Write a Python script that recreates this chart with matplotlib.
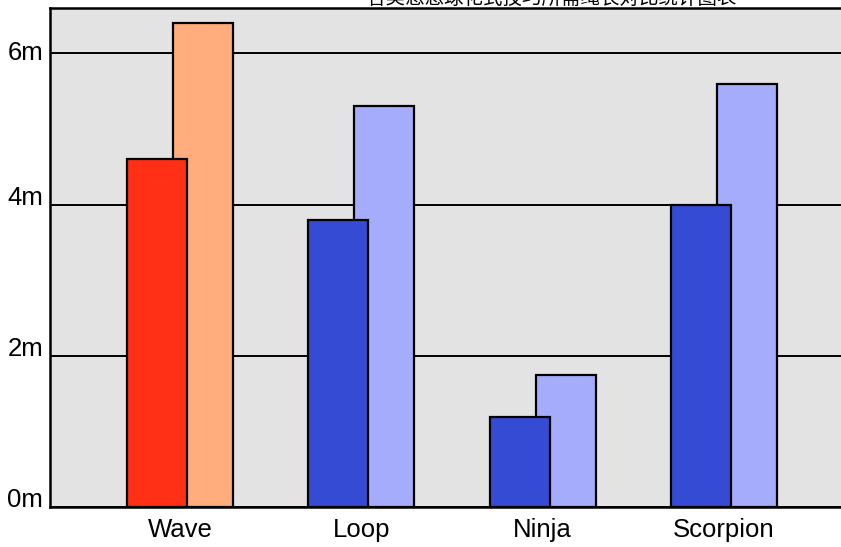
import matplotlib.pyplot as plt
import numpy as np

plt.rcParams['font.family'] = ['Liberation Sans', 'Noto Sans CJK SC', 'DejaVu Sans']

categories = ['Wave', 'Loop', 'Ninja', 'Scorpion']
front_values = [4.6, 3.8, 1.19, 4.0]
back_values = [6.4, 5.31, 1.75, 5.6]
front_colors = ['#ff3015', '#364bd4', '#364bd4', '#364bd4']
back_colors = ['#ffad7d', '#a6acfc', '#a6acfc', '#a6acfc']
yticks = [0, 2, 4, 6]
ytick_labels = ['0m', '2m', '4m', '6m']
title = '各类悠悠球花式技巧所需绳长对比统计图表'

fig = plt.figure(figsize=(8.41, 5.47), dpi=100)
ax = fig.add_axes([50 / 841, 40 / 547, 800 / 841, 499 / 547])
ax.set_facecolor('#e3e3e3')

x = np.arange(len(categories))
w = 0.33
off = 0.127
ax.bar(x + off, back_values, w, color=back_colors, edgecolor='black', linewidth=1.6, zorder=2)
ax.bar(x - off, front_values, w, color=front_colors, edgecolor='black', linewidth=1.6, zorder=3)

ax.set_xlim(-0.718, 3.696)
ax.set_ylim(0, 6.6)
ax.set_yticks(yticks)
ax.set_yticklabels(ytick_labels)
ax.set_xticks(x)
ax.set_xticklabels(categories)
ax.tick_params(length=0, labelsize=18.5)
ax.tick_params(axis='y', pad=5)
ax.tick_params(axis='x', pad=8)
# the lower labels sit on their gridline, the top one is centred on it
for lbl, va in zip(ax.get_yticklabels(), ['baseline', 'baseline', 'baseline', 'center']):
    lbl.set_verticalalignment(va)
ax.yaxis.grid(True, color='black', linewidth=1.4, zorder=1)
ax.set_axisbelow(True)
for s in ['left', 'bottom', 'top']:
    ax.spines[s].set_linewidth(1.8)
ax.spines['right'].set_visible(False)

fig.text(552 / 841, 1 - 4 / 547, title, ha='center', va='baseline', fontsize=14,
         family=['Noto Sans CJK SC', 'DejaVu Sans'])

fig.savefig('out.png', dpi=100)
